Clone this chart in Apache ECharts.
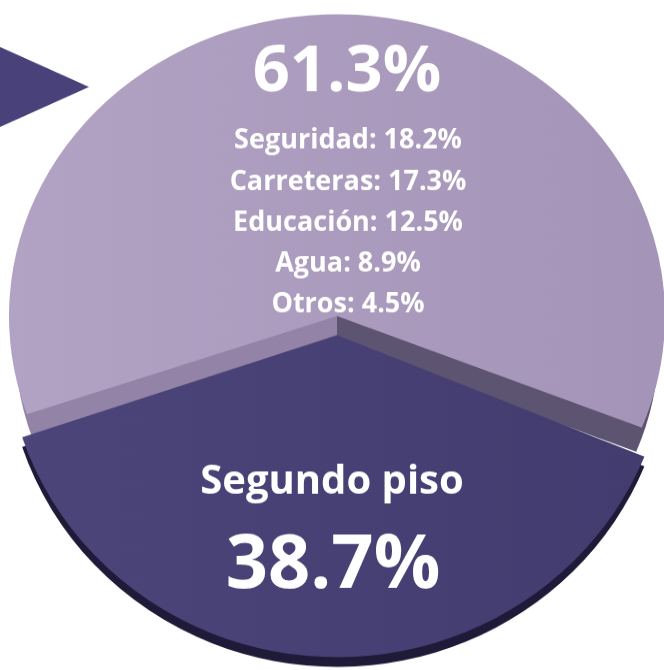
<!DOCTYPE html>
<html>
<head>
<meta charset="utf-8">
<script src="https://cdn.jsdelivr.net/npm/echarts@6/dist/echarts.min.js"></script>
<style>
  html, body { margin: 0; padding: 0; overflow: hidden; background: #fff; }
  #wrap { position: relative; width: 664px; height: 670px; overflow: hidden; }
  /* tilted disc: the far half is squashed more than the near half */
  .layer { position: absolute; left: 0; top: 0; width: 664px; transform-origin: 0 0; }
  #back { height: 728px; transform: scaleY(0.92); }
  #front { height: 691px; transform: scaleY(0.97); }
</style>
</head>
<body>
<div id="wrap">
  <div id="back" class="layer"></div>
  <div id="front" class="layer"></div>
</div>
<script>
// data
const sliceNames = ['', 'Segundo piso']
const slicePct = [61.3, 38.7]
const subNames = ['Seguridad', 'Carreteras', 'Educación', 'Agua', 'Otros']
const subPct = [18.2, 17.3, 12.5, 8.9, 4.5]

const S1 = 0.92   // squash of the back layer
const S2 = 0.97   // squash of the front layer
const cx = 337

const clear = 'rgba(0,0,0,0)'
const grad = (a, b) => new echarts.graphic.LinearGradient(0, 0, 1, 0, [
  { offset: 0, color: a }, { offset: 1, color: b }
])
const stepGrad = (a, b) => new echarts.graphic.LinearGradient(0, 0, 1, 0, [
  { offset: 0, color: a }, { offset: 0.5, color: a },
  { offset: 0.5, color: b }, { offset: 1, color: b }
])

function pieSeries(center, r, colors, z, start) {
  return {
    type: 'pie',
    silent: true,
    z: z,
    center: center,
    radius: [0, r],
    startAngle: start,
    clockwise: true,
    label: { show: false },
    labelLine: { show: false },
    emphasis: { disabled: true },
    data: slicePct.map((v, i) => ({
      name: sliceNames[i] || 'top',
      value: v,
      itemStyle: { color: colors[i] }
    }))
  }
}

const txt = (x, y, text, size) => ({
  type: 'text',
  x: x,
  y: y / S2,
  scaleY: 1 / S2,
  z: 100,
  style: {
    text: text,
    fill: '#fff',
    font: 'bold ' + size + 'px "Open Sans"',
    align: 'center', verticalAlign: 'middle',
    textAlign: 'center', textVerticalAlign: 'middle'
  }
})

const texts = [txt(347, 73, slicePct[0].toFixed(1) + '%', 65)]
subNames.forEach((n, i) => {
  texts.push(txt(348, 141 + i * 41, n + ': ' + subPct[i].toFixed(1) + '%', 27))
})
texts.push(txt(332, 482, sliceNames[1], 40))
texts.push(txt(333, 567, slicePct[1].toFixed(1) + '%', 74))

// back layer: top slice and its side wall
const back = echarts.init(document.getElementById('back'))
back.setOption({
  animation: false,
  series: [
    pieSeries([cx, 372], 322, [stepGrad('#9383a7', '#5d5471'), clear], 1, 199),
    pieSeries([cx, 343.5], 328, [grad('#b2a3c5', '#a494b7'), clear], 2, 199)
  ],
  graphic: [
    {
      type: 'polygon',
      z: 50,
      shape: { points: [[0, 51], [89, 94.6], [0, 138]] },
      style: { fill: '#48417a' }
    }
  ]
})

// front layer: pulled-out slice, its rim and all labels
const front = echarts.init(document.getElementById('front'))
front.setOption({
  animation: false,
  series: [
    pieSeries([cx, 355.5], 332, [clear, '#1e1a38'], 3, 198.5),
    pieSeries([cx, 345.5], 332, [clear, grad('#4b457a', '#423c6f')], 4, 198.5)
  ],
  graphic: texts
})
</script>
</body>
</html>
